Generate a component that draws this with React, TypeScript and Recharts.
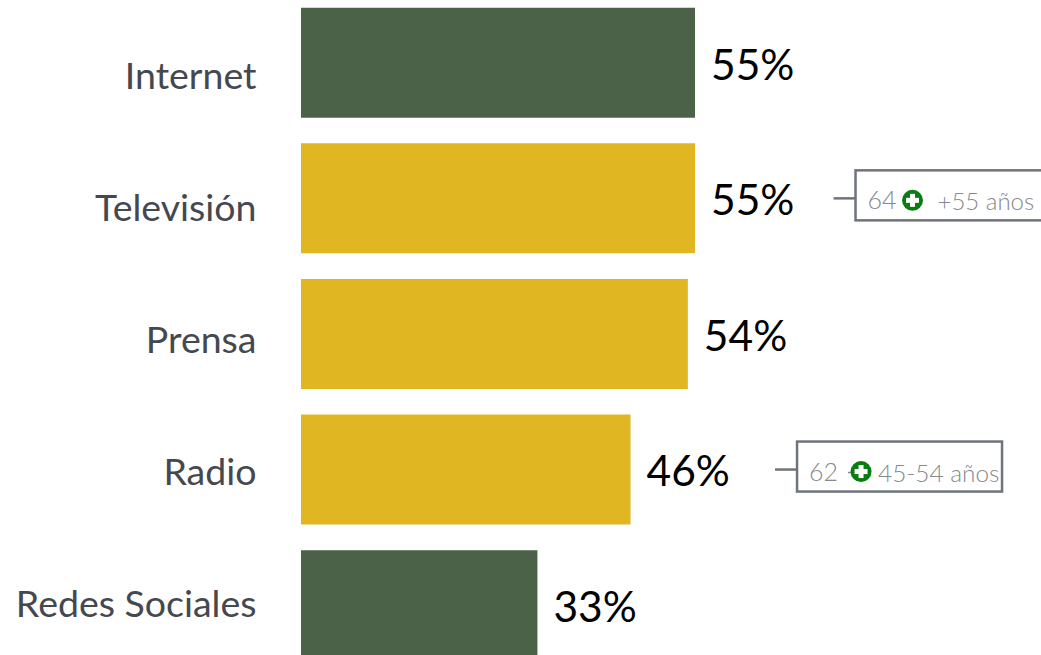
import React from "react";
import { BarChart, Bar, XAxis, YAxis, Cell, LabelList } from "recharts";

const media = ["Internet", "Televisión", "Prensa", "Radio", "Redes Sociales"];
const shares = [55, 55, 54, 46, 33];
const online = [true, false, false, false, true];
const peakValue = [null, 64, null, 62, null];
const peakGroup = [null, "+55 años", null, "45-54 años", null];

const rows = media.map((name, i) => ({ name, share: shares[i] }));

const GREEN = "#4b6249";
const GOLD = "#e0b622";
const FONT = "Lato, Carlito, sans-serif";
const FRAME = "#6f747c";

// Axis names sit on a slightly tighter rhythm than the bars.
const NameTick = ({ x, y, index, payload }: any) => (
  <text
    x={x}
    y={y + 13 - index * 3.5}
    dy="0.35em"
    textAnchor="end"
    fontFamily={FONT}
    fontSize={37.5}
    fill="#45484f"
  >
    {payload.value}
  </text>
);

const PlusBadge = ({ cx, cy }: { cx: number; cy: number }) => (
  <g>
    <circle cx={cx} cy={cy} r={10.5} fill="#0a7d12" />
    <rect x={cx - 6.5} y={cy - 2.5} width={13} height={5} fill="#fff" />
    <rect x={cx - 2.5} y={cy - 6.5} width={5} height={13} fill="#fff" />
  </g>
);

// Value at the end of each bar, plus a framed note for the two highlighted media.
const BarEnd = ({ x, y, width, height, index }: any) => {
  const end = x + width;
  const mid = y + height / 2;
  const peak = peakValue[index];
  const isTv = index === 1;
  const box = end + (isTv ? 160.5 : 166.5);
  const boxTop = mid - 28;
  const badgeX = box + (isTv ? 57 : 64);
  const groupX = box + (isTv ? 82 : 81);
  const noteStyle = { fontFamily: FONT, fontWeight: 300, fill: "#85888e" };
  return (
    <g>
      <text
        x={end + 16}
        y={mid + 2}
        dy="0.35em"
        fontFamily={FONT}
        fontSize={42.5}
        fill="#000"
      >
        {shares[index]}%
      </text>
      {peak !== null && (
        <g>
          <line x1={box - 22} x2={box} y1={mid} y2={mid} stroke={FRAME} strokeWidth={2.5} />
          <rect
            x={box}
            y={boxTop}
            width={isTv ? 200 : 205}
            height={50}
            fill="#fff"
            stroke={FRAME}
            strokeWidth={2.5}
          />
          <text x={box + 12} y={boxTop + 39} fontSize={25} {...noteStyle}>
            {peak}
          </text>
          {!isTv && (
            <line
              x1={badgeX - 13}
              x2={badgeX - 8}
              y1={boxTop + 31}
              y2={boxTop + 31}
              stroke="#85888e"
              strokeWidth={1.5}
            />
          )}
          <PlusBadge cx={badgeX} cy={boxTop + 30} />
          <text x={groupX} y={boxTop + 40} fontSize={isTv ? 24 : 24.4} {...noteStyle}>
            {peakGroup[index]}
          </text>
        </g>
      )}
    </g>
  );
};

export default function App() {
  return (
    <div
      style={{
        position: "fixed",
        left: 0,
        top: 0,
        width: 1041,
        height: 655,
        overflow: "hidden",
        background: "#fff",
      }}
    >
      <div style={{ position: "absolute", left: 0, top: -5 }}>
        <BarChart
          width={1041}
          height={678}
          data={rows}
          layout="vertical"
          barCategoryGap={12.75}
          margin={{ top: 0, right: 23.6, bottom: 0, left: 0 }}
        >
          <XAxis type="number" domain={[0, 100]} hide />
          <YAxis
            type="category"
            dataKey="name"
            width={301}
            axisLine={false}
            tickLine={false}
            tick={NameTick}
            tickMargin={38.5}
            interval={0}
          />
          <Bar dataKey="share" isAnimationActive={false}>
            {rows.map((row, i) => (
              <Cell key={row.name} fill={online[i] ? GREEN : GOLD} />
            ))}
            <LabelList dataKey="share" content={BarEnd} />
          </Bar>
        </BarChart>
      </div>
    </div>
  );
}
